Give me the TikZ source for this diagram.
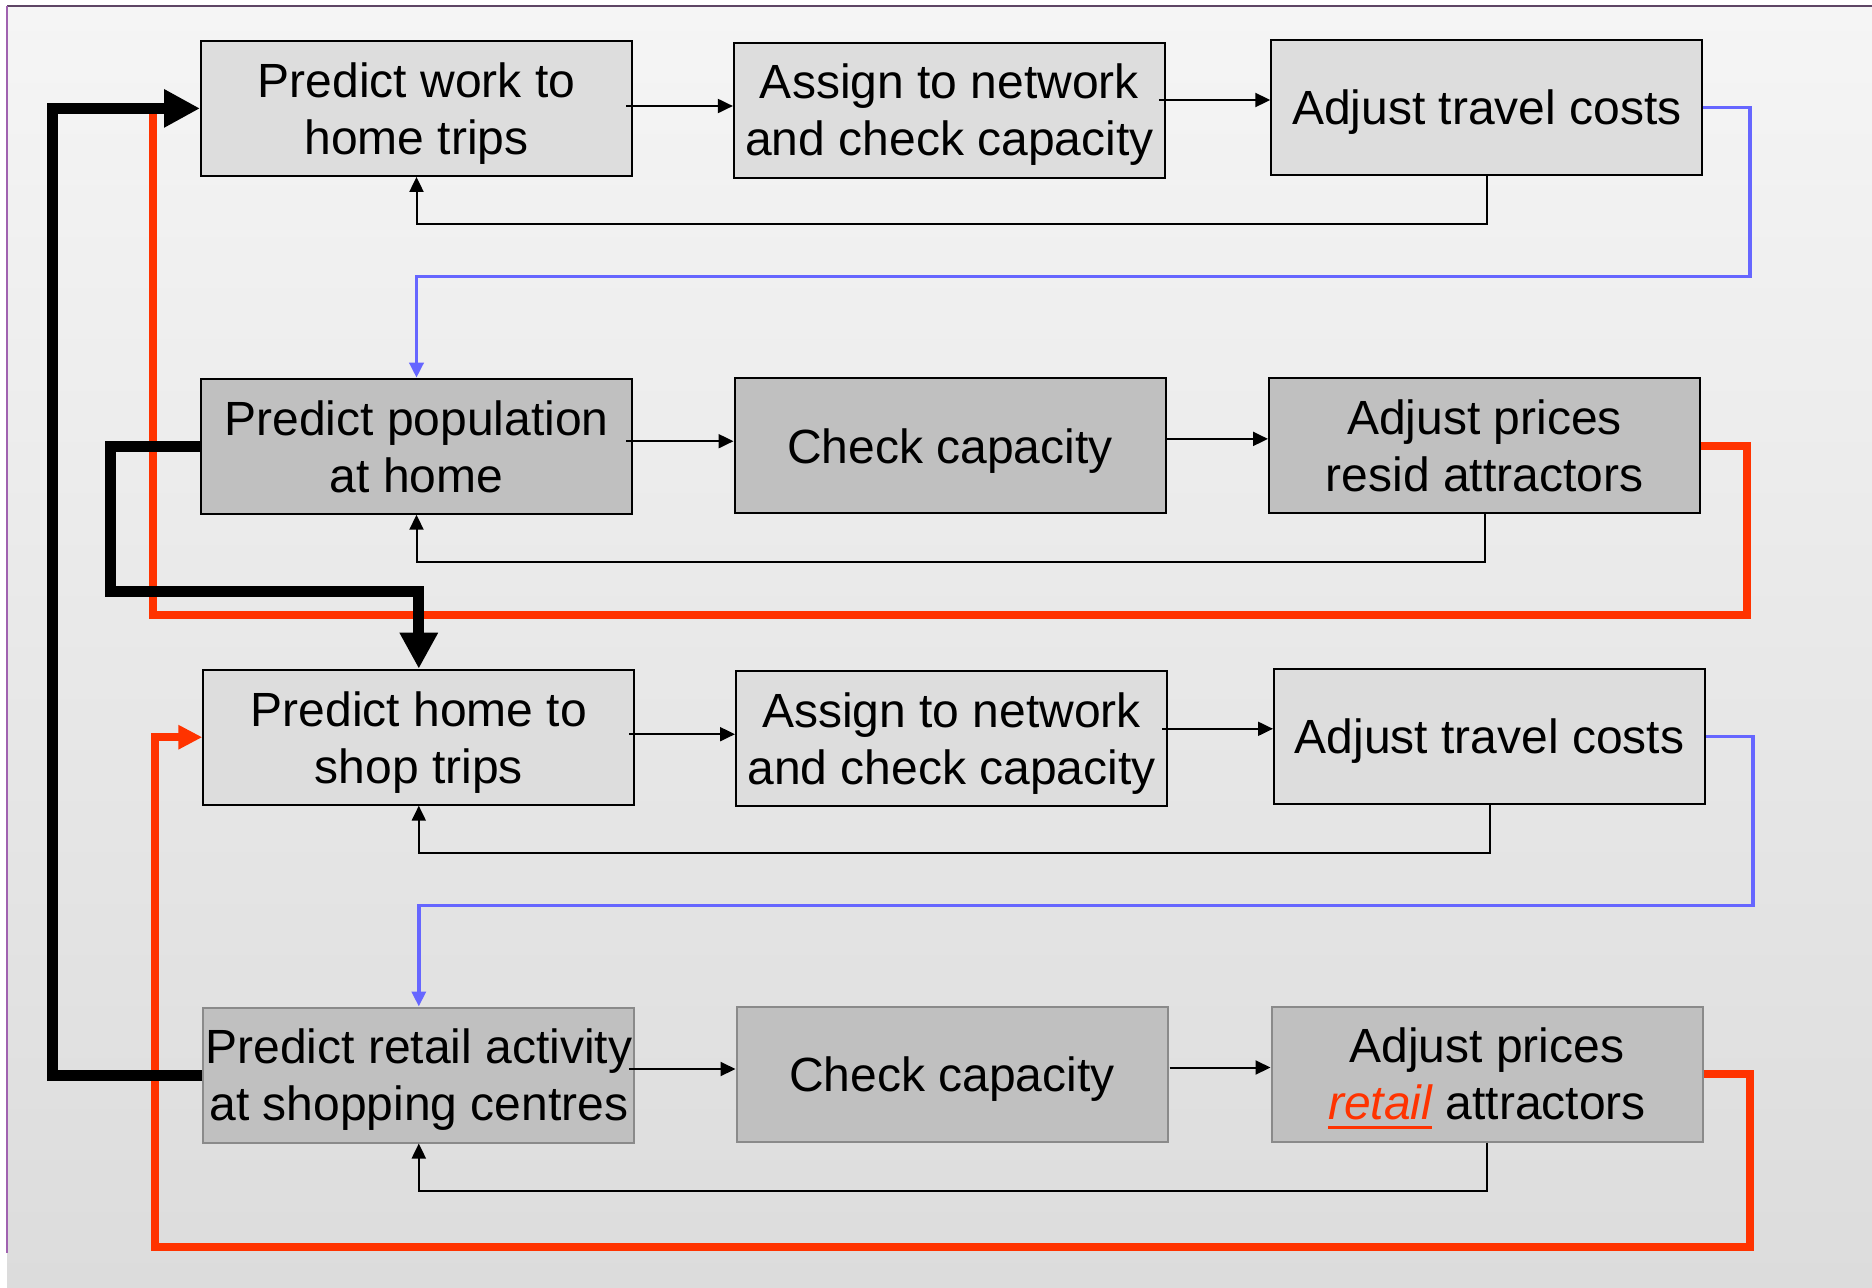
\documentclass[tikz,border=0pt]{standalone}
\usepackage{fontspec}
\setmainfont{Liberation Sans}
\usetikzlibrary{arrows.meta,calc}
\definecolor{bluel}{HTML}{6666FF}
\definecolor{redl}{HTML}{FF3300}
\definecolor{boxlight}{HTML}{DDDDDD}
\definecolor{boxdark}{HTML}{C0C0C0}
\definecolor{boxgrey}{HTML}{8A8A8A}
\definecolor{frametop}{HTML}{5E4565}
\definecolor{frameleft}{HTML}{A062B0}
\definecolor{bgtop}{HTML}{F5F5F5}
\definecolor{bgbot}{HTML}{DCDCDC}
\newcommand{\redul}[1]{\setbox0=\hbox{#1}\rlap{\rule[-9pt]{\wd0}{3pt}}\box0}
\newcommand{\bt}[1]{\raisebox{-6pt}[\height][\depth]{\begin{tabular}{@{}c@{}}#1\end{tabular}}}
\begin{document}
\begin{tikzpicture}[x=1pt,y=-1pt,
  boxbase/.style={rectangle,draw=black,line width=2pt,minimum width=431pt,minimum height=135pt,inner sep=0pt,font=\fontsize{48}{57}\selectfont},
  boxl/.style={boxbase,fill=boxlight},
  boxd/.style={boxbase,fill=boxdark},
  boxg/.style={boxbase,fill=boxdark,draw=boxgrey},
  flow/.style={draw=black,line width=2pt,-{Triangle[length=15pt,width=14pt]}},
  blueconn/.style={draw=bluel,line width=3.5pt,line join=miter,-{Triangle[length=15pt,width=14pt]}},
  redconn/.style={draw=redl,line width=8pt,line join=miter},
  redarr/.style={redconn,-{Triangle[length=24pt,width=23pt]}},
  blk/.style={draw=black,line width=11pt,line join=miter,-{Triangle[length=36pt,width=36pt]}}
]
\useasboundingbox (0,0) rectangle (1872,1288);
\fill[white] (0,0) rectangle (1872,1288);
\shade[top color=bgtop,bottom color=bgbot] (7,5.5) rectangle (1872,1288);
\draw[frametop,line width=2pt] (7,5.5) -- (1872,5.5);
\draw[frameleft,line width=2pt] (7,5.5) -- (7,1253);

% boxes
\node[boxl] (r1a) at (416.5,108.4) {\bt{Predict work to\\home trips}};
\node[boxl] (r1b) at (949.4,110) {\bt{Assign to network\\and check capacity}};
\node[boxl] (r1c) at (1486.8,107.5) {\bt{Adjust travel costs}};

\node[boxd] (r2a) at (416.5,446.2) {\bt{Predict population\\at home}};
\node[boxd] (r2b) at (950,445.9) {\bt{Check capacity}};
\node[boxd] (r2c) at (1484.5,445.5) {\bt{Adjust prices\\resid attractors}};

\node[boxl] (r3a) at (418.8,737.2) {\bt{Predict home to\\shop trips}};
\node[boxl] (r3b) at (951.5,738.8) {\bt{Assign to network\\and check capacity}};
\node[boxl] (r3c) at (1489.5,736.3) {\bt{Adjust travel costs}};

\node[boxg] (r4a) at (418.8,1075) {\bt{Predict retail activity\\at shopping centres}};
\node[boxg] (r4b) at (952,1074.5) {\bt{Check capacity}};
\node[boxg] (r4c) at (1487,1074) {\bt{Adjust prices\\{\color{redl}\redul{\itshape retail}} attractors}};

% bend coordinates
\coordinate (bA) at (1750,276.7);
\coordinate (bB) at (1753,905.7);
\coordinate (rA) at (1747,615);
\coordinate (rAend) at (153,108.4);
\coordinate (rB) at (1750,1246.7);
\coordinate (rBx) at (155.4,737.2);
\coordinate (kA) at (52,108.4);
\coordinate (kB) at (110,591.7);

% feedback loops
\draw[flow] (r1c.south) -- ++(0,48) -| (r1a.south);
\draw[flow] (r2c.south) -- ++(0,48) -| (r2a.south);
\draw[flow] (r3c.south) -- ++(0,48) -| (r3a.south);
\draw[flow] (r4c.south) -- ++(0,48) -| (r4a.south);

% horizontal flow arrows
\coordinate (f1) at ($(r1a.east)+(-7,-2.4)$);
\coordinate (f2) at ($(r1b.east)+(-7,-10)$);
\coordinate (f3) at ($(r2a.east)+(-7,-5)$);
\coordinate (f4) at ($(r2b.east)+(0,-7)$);
\coordinate (f5) at ($(r3a.east)+(-6,-3)$);
\coordinate (f6) at ($(r3b.east)+(-6,-10)$);
\coordinate (f7) at ($(r4a.east)+(-6,-6)$);
\coordinate (f8) at ($(r4b.east)+(1,-7)$);
\draw[flow] (f1) -- (f1 -| r1b.west);
\draw[flow] (f2) -- (f2 -| r1c.west);
\draw[flow] (f3) -- (f3 -| r2b.west);
\draw[flow] (f4) -- (f4 -| r2c.west);
\draw[flow] (f5) -- (f5 -| r3b.west);
\draw[flow] (f6) -- (f6 -| r3c.west);
\draw[flow] (f7) -- (f7 -| r4b.west);
\draw[flow] (f8) -- (f8 -| r4c.west);

% blue links
\draw[blueconn] (r1c.east) -| (bA) -| (r2a.north);
\draw[blueconn] (r3c.east) -| (bB) -| (r4a.north);

% red links
\draw[redconn] (r2c.east) -| (rA) -| (rAend);
\draw[redarr] (r4c.east) -| (rB) -| (rBx) -- (r3a.west);

% thick black links
\draw[blk] (r4a.west) -| (kA) -- (r1a.west);
\draw[blk] (r2a.west) -| (kB) -| (r3a.north);
\end{tikzpicture}
\end{document}
